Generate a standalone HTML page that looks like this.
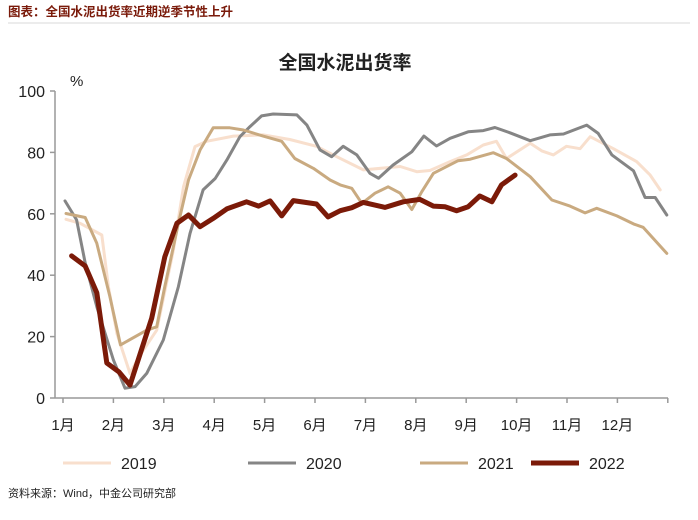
<!DOCTYPE html>
<html><head><meta charset="utf-8"><style>
body{margin:0;background:#fff;width:698px;height:515px;overflow:hidden;font-family:"Liberation Sans","Noto Sans CJK SC",sans-serif;}
</style></head><body>
<svg width="698" height="515" viewBox="0 0 698 515" xmlns="http://www.w3.org/2000/svg">
<text x="8" y="16" font-size="12.5" font-weight="bold" fill="#7a1a0a" font-family="Liberation Sans, Noto Sans CJK SC, sans-serif">图表：全国水泥出货率近期逆季节性上升</text>
<line x1="8" y1="23" x2="690" y2="23" stroke="#d9d9d9" stroke-width="1"/>
<text x="345" y="69" font-size="19" font-weight="bold" text-anchor="middle" fill="#222" font-family="Liberation Sans, Noto Sans CJK SC, sans-serif">全国水泥出货率</text>
<text x="70" y="86" font-size="15" fill="#222">%</text>
<g id="axes"></g>
<g id="series"></g>
<g id="legend"></g>
<text x="8" y="497" font-size="11" fill="#222" font-family="Liberation Sans, Noto Sans CJK SC, sans-serif">资料来源：Wind，中金公司研究部</text>
</svg>
<script>
const yTicks=[0,20,40,60,80,100];
const monthLabels=["1月","2月","3月","4月","5月","6月","7月","8月","9月","10月","11月","12月"];
const seriesNames=["2019","2020","2021","2022"];
const x2019=[1.06,1.34,1.77,1.90,2.07,2.33,2.53,2.86,3.19,3.39,3.62,3.85,4.38,4.97,5.50,6.03,6.43,6.96,7.69,8.02,8.28,8.68,9.01,9.34,9.60,9.80,10.27,10.50,10.73,10.99,11.26,11.46,11.92,12.38,12.65,12.85];
const y2019=[58.2,56.9,53.1,36.3,21,8,14,22.1,48.2,68.8,81.9,83.6,85.3,85.7,84.2,82,78.6,74.3,75.4,73.7,74.1,77,79.2,82.4,83.6,78,83,80.5,79.2,82,81.2,85.1,81.2,77,72.6,67.8];
const x2020=[1.04,1.27,1.44,1.67,2.0,2.23,2.43,2.66,2.99,3.29,3.52,3.78,4.02,4.25,4.51,4.71,4.94,5.17,5.64,5.84,6.10,6.33,6.56,6.83,7.09,7.26,7.55,7.92,8.16,8.41,8.68,9.04,9.34,9.57,9.87,10.27,10.66,10.93,11.39,11.62,11.89,12.32,12.55,12.75,12.98];
const y2020=[64.2,58,44,29.7,12.4,3.2,3.7,8,18.9,36.3,53.6,67.8,71.5,77.5,85.1,88.4,91.9,92.5,92.2,88.9,80.8,78.6,82,79.2,73.2,71.6,75.9,80.2,85.3,82.1,84.6,86.7,87.1,88.1,86.4,83.8,85.7,86,88.9,86.2,79.2,74,65.3,65.3,59.6];
const x2021=[1.06,1.44,1.67,1.93,2.14,2.66,2.86,3.02,3.29,3.49,3.72,3.98,4.31,4.58,4.97,5.34,5.60,5.97,6.30,6.50,6.73,6.93,7.19,7.45,7.69,7.92,8.12,8.35,8.84,9.08,9.54,9.80,10.27,10.70,11.06,11.36,11.59,11.99,12.32,12.51,12.98];
const y2021=[60.1,58.8,50.4,33,17.3,22.1,23.2,36.3,56.9,71,80.8,88,88,87.3,85.3,83.6,78,74.8,71,69.4,68.3,63.4,66.7,68.8,66.7,61.4,67.2,73.2,77.3,77.8,79.9,78,72.1,64.5,62.5,60.3,61.8,59.3,56.7,55.6,47.1];
const x2022=[1.17,1.44,1.67,1.87,2.11,2.33,2.76,3.02,3.26,3.49,3.72,3.98,4.25,4.64,4.88,5.11,5.34,5.57,6.03,6.26,6.50,6.73,6.96,7.39,7.75,8.08,8.35,8.58,8.81,9.04,9.27,9.51,9.70,9.97];
const y2022=[46.3,43,34.3,11.4,8.5,4.2,26,46,56.9,59.6,55.8,58.5,61.6,63.9,62.5,64.2,59.3,64.3,63.2,59,61,62,63.7,62.1,63.9,64.7,62.5,62.3,61,62.3,65.8,63.9,69.4,72.6];

const NS="http://www.w3.org/2000/svg";
const X0=63,MW=50.4,Y0=398,YK=3.07;
function xs(m){return X0+(m-1)*MW;}
function ys(v){return Y0-v*YK;}
function mk(tag,attrs,parent){const e=document.createElementNS(NS,tag);for(const k in attrs)e.setAttribute(k,attrs[k]);parent.appendChild(e);return e;}
const axes=document.getElementById('axes');
let e=mk('line',{x1:55,y1:ys(100),x2:55,y2:Y0,stroke:'#999','stroke-width':1.5},axes);


e=mk('line',{x1:55,y1:Y0,x2:668,y2:Y0,stroke:'#999','stroke-width':1.5},axes);


yTicks.forEach(v=>{
  const t=mk('line',{x1:50,y1:ys(v),x2:55,y2:ys(v),stroke:'#999','stroke-width':1.5},axes);
  
  
  const l=mk('text',{x:45,y:ys(v)+6,'font-size':16,'text-anchor':'end',fill:'#222'},axes);
  l.textContent=v;
  
  
});
monthLabels.forEach((m,i)=>{
  const x=xs(i+1);
  const t=mk('line',{x1:x,y1:Y0,x2:x,y2:Y0+5,stroke:'#999','stroke-width':1.5},axes);
  
  
  const l=mk('text',{x:x,y:Y0+32,'font-size':15,'text-anchor':'middle',fill:'#222','font-family':'Liberation Sans, Noto Sans CJK SC, sans-serif'},axes);
  l.textContent=m;
  
  
});
const t13=mk('line',{x1:xs(13),y1:Y0,x2:xs(13),y2:Y0+5,stroke:'#999','stroke-width':1.5},axes);



const styles=[{c:'#f8dfcd',w:3},{c:'#858585',w:3},{c:'#c9aa80',w:3},{c:'#7b1a08',w:5}];
const xsData=[x2019,x2020,x2021,x2022],ysData=[y2019,y2020,y2021,y2022];
const sg=document.getElementById('series');
xsData.forEach((xa,s)=>{
  const pts=xa.map((m,i)=>xs(m).toFixed(1)+','+ys(ysData[s][i]).toFixed(1)).join(' ');
  const p=mk('polyline',{points:pts,fill:'none',stroke:styles[s].c,'stroke-width':styles[s].w,'stroke-linejoin':'round','stroke-linecap':'round'},sg);
  
  
});
const lg=document.getElementById('legend');
const lx=[63,248,420,531];
seriesNames.forEach((n,s)=>{
  const l=mk('line',{x1:lx[s],y1:463,x2:lx[s]+48,y2:463,stroke:styles[s].c,'stroke-width':styles[s].w},lg);
  
  
  const t=mk('text',{x:lx[s]+58,y:469,'font-size':16,fill:'#222'},lg);
  t.textContent=n;
  
  
});
</script>
</body></html>
